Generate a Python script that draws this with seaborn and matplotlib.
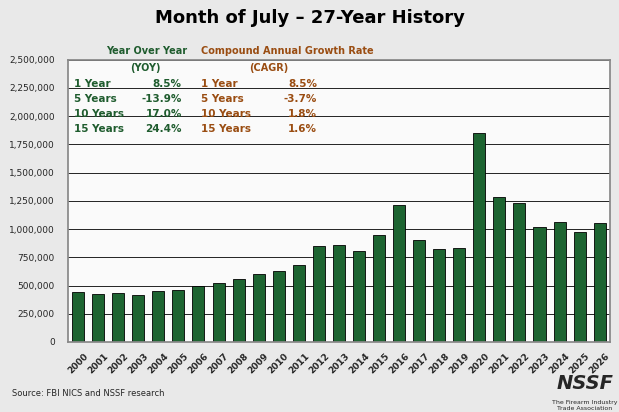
import matplotlib
matplotlib.use("Agg")
import matplotlib.pyplot as plt
import seaborn as sns
import pandas as pd

years = [str(y) for y in range(2000, 2027)]
checks = [440000, 425000, 430000, 420000, 455000, 460000, 500000, 520000, 555000, 600000,
          625000, 680000, 850000, 855000, 810000, 945000, 1210000, 905000, 820000, 830000,
          1850000, 1285000, 1235000, 1020000, 1065000, 975000, 1055000]
yoy_labels = ["1 Year", "5 Years", "10 Years", "15 Years"]
yoy_vals = ["8.5%", "-13.9%", "17.0%", "24.4%"]
cagr_vals = ["8.5%", "-3.7%", "1.8%", "1.6%"]

df = pd.DataFrame({"year": years, "checks": checks})
sns.set_theme(style="white")
fig = plt.figure(figsize=(6.19, 4.12), dpi=100, facecolor="#e9e9e9")
ax = fig.add_axes([0.11, 0.17, 0.875, 0.685])
ax.set_facecolor("#fafafa")
sns.barplot(data=df, x="year", y="checks", color="#1d6431", edgecolor="black", linewidth=0.6, width=0.6,
            saturation=1, ax=ax)
ax.set_ylim(0, 2500000)
ax.set_yticks(range(0, 2500001, 250000))
ax.set_yticklabels([f"{v:,}" for v in range(0, 2500001, 250000)], fontsize=6.5)
ax.set_xticklabels(years, rotation=45, fontsize=6.5, fontweight="bold")
ax.tick_params(axis="x", pad=1)
ax.yaxis.grid(True, color="black", linewidth=0.6)
ax.set_axisbelow(True)
ax.set_xlabel(""); ax.set_ylabel("")
for s in ax.spines.values():
    s.set_color("#888888")

fig.text(0.5, 0.945, "Month of July – 27-Year History", ha="center", fontsize=13, fontweight="bold", color="black")
green = "#1f5c2e"; brown = "#9a4d12"
ax.text(0.07, 1.05, "Year Over Year", transform=ax.transAxes, color=green, fontsize=7, fontweight="bold", va="top")
ax.text(0.115, 0.99, "(YOY)", transform=ax.transAxes, color=green, fontsize=7, fontweight="bold", va="top")
ax.text(0.245, 1.05, "Compound Annual Growth Rate", transform=ax.transAxes, color=brown, fontsize=7, fontweight="bold", va="top")
ax.text(0.335, 0.99, "(CAGR)", transform=ax.transAxes, color=brown, fontsize=7, fontweight="bold", va="top")
for i in range(4):
    y = 0.93 - i * 0.053
    ax.text(0.01, y, yoy_labels[i], transform=ax.transAxes, color=green, fontsize=7.5, fontweight="bold", va="top")
    ax.text(0.21, y, yoy_vals[i], transform=ax.transAxes, color=green, fontsize=7.5, fontweight="bold", va="top", ha="right")
    ax.text(0.245, y, yoy_labels[i], transform=ax.transAxes, color=brown, fontsize=7.5, fontweight="bold", va="top")
    ax.text(0.46, y, cagr_vals[i], transform=ax.transAxes, color=brown, fontsize=7.5, fontweight="bold", va="top", ha="right")
fig.text(0.02, 0.04, "Source: FBI NICS and NSSF research", fontsize=6)
fig.text(0.945, 0.055, "NSSF", fontsize=14, fontweight="bold", style="italic", ha="center")
fig.text(0.945, 0.005, "The Firearm Industry\nTrade Association", fontsize=4.5, ha="center")
fig.savefig("out.png", dpi=100, facecolor=fig.get_facecolor())
